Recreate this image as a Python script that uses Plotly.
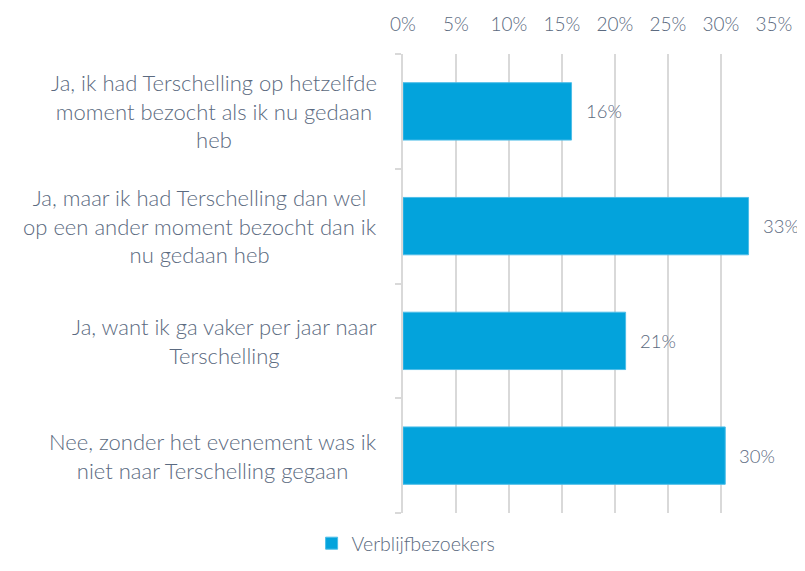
import plotly.graph_objects as go

categories = [
    "Ja, ik had Terschelling op hetzelfde<br>moment bezocht als ik nu gedaan<br>heb",
    "Ja, maar ik had Terschelling dan wel<br>op een ander moment bezocht dan ik<br>nu gedaan heb",
    "Ja, want ik ga vaker per jaar naar<br>Terschelling",
    "Nee, zonder het evenement was ik<br>niet naar Terschelling gegaan",
]
values = [15.9, 32.6, 21.0, 30.4]
labels = ["16%", "33%", "21%", "30%"]
series_name = "Verblijfbezoekers"
x_ticks = [0, 5, 10, 15, 20, 25, 30, 35]
x_ticktext = [f"{t}%" for t in x_ticks]

TEXT = "#5b6a80"
GRID = "#d9d9d9"
BAR = "#03a3dc"
FONT = "Lato"

pos = list(range(len(categories)))

fig = go.Figure()
fig.add_trace(go.Bar(
    y=pos, x=values, orientation="h", name=series_name,
    marker=dict(color=BAR, line=dict(color="#4dbde8", width=1)),
    width=0.5,
    showlegend=True,
))

annotations = []
for p, c in zip(pos, categories):
    annotations.append(dict(
        x=0, xref="paper", xshift=-24, y=p, yref="y",
        text=c, showarrow=False, xanchor="right", yanchor="middle",
        align="center",
        font=dict(family=FONT, size=22, color=TEXT, weight=300),
    ))
for p, v, t in zip(pos, values, labels):
    annotations.append(dict(
        x=v, xref="x", xshift=12, y=p, yref="y",
        text=t, showarrow=False, xanchor="left", yanchor="middle",
        font=dict(family=FONT, size=18.5, color=TEXT, weight=300),
    ))

# the page body adds an 8px margin, so the figure is sized to fit the window
fig.update_layout(
    width=797, height=555,
    margin=dict(l=395, r=31, t=46, b=50),
    paper_bgcolor="white", plot_bgcolor="white",
    bargap=0.5,
    font=dict(family=FONT, color=TEXT, weight=300),
    xaxis=dict(
        side="top", range=[0, 35], tickvals=x_ticks, ticktext=x_ticktext,
        showgrid=True, gridcolor=GRID, gridwidth=1.5,
        zeroline=False, showline=False, ticks="", ticklabelstandoff=18,
        automargin=False,
        tickfont=dict(family=FONT, size=19, color=TEXT, weight=300),
    ),
    yaxis=dict(
        range=[3.5, -0.5], tickmode="array",
        tickvals=[-0.5, 0.5, 1.5, 2.5, 3.5], ticktext=["", "", "", "", ""],
        ticks="outside", ticklen=6, tickcolor=GRID, tickwidth=1.5,
        showgrid=False, zeroline=False, automargin=False,
        showline=True, linecolor=GRID, linewidth=1.5,
        showticklabels=False,
    ),
    legend=dict(
        orientation="h", x=0.4995, xref="container", xanchor="center",
        y=-0.01, yref="container", yanchor="bottom",
        font=dict(family=FONT, size=19.5, color=TEXT, weight=300),
        itemwidth=30,
    ),
    annotations=annotations,
)

fig.write_html("out.html")
